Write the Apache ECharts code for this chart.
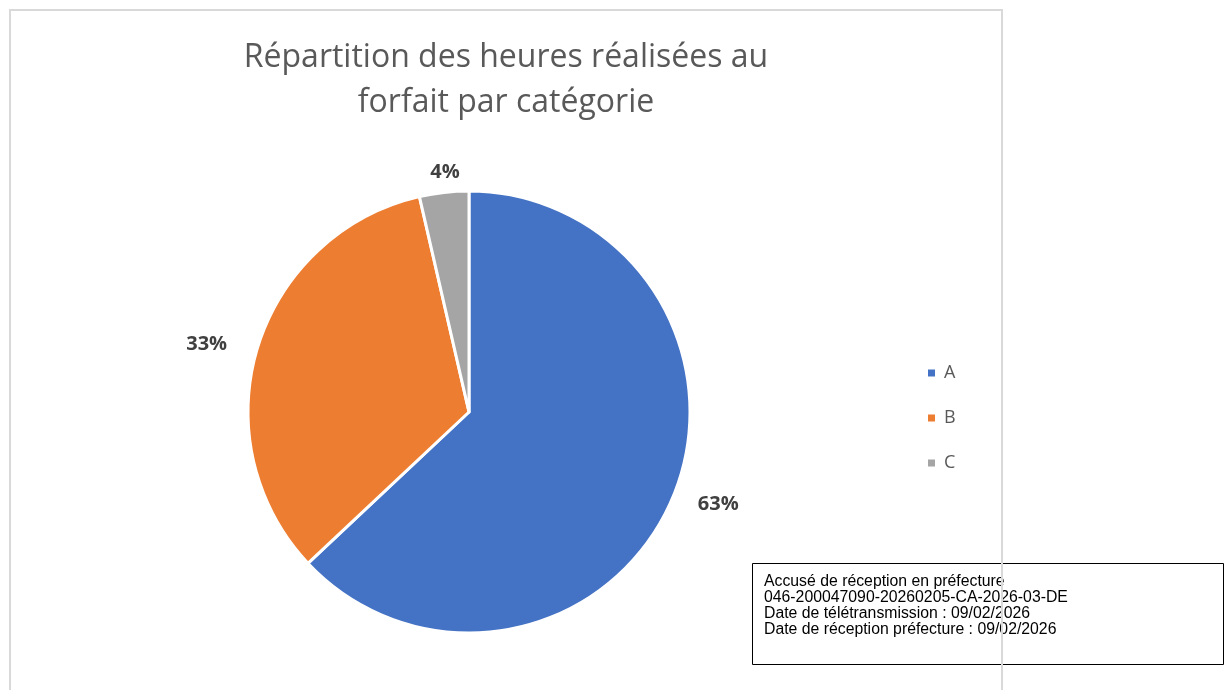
<!DOCTYPE html>
<html><head><meta charset="utf-8">
<script src="https://cdn.jsdelivr.net/npm/echarts@6/dist/echarts.min.js"></script>
<style>html,body{margin:0;padding:0;background:#fff}#c{width:1230px;height:690px}</style>
</head><body><div id="c"></div>
<script>
const categories = ['A', 'B', 'C'];
const values = [63.0, 33.4, 3.6];
const colors = ['#4472C4', '#ED7D31', '#A5A5A5'];
const titleText = 'Répartition des heures réalisées au\nforfait par catégorie';
const stampLines = ['Accusé de réception en préfecture', '046-200047090-20260205-CA-2026-03-DE', 'Date de télétransmission : 09/02/2026', 'Date de réception préfecture : 09/02/2026'];

const chart = echarts.init(document.getElementById('c'));
chart.setOption({
  animation: false,
  backgroundColor: '#fff',
  title: {
    text: titleText, left: 506, textAlign: 'center', top: 35, padding: 0,
    textStyle: { fontFamily: 'Open Sans', fontWeight: 'normal', fontSize: 32, color: '#595959', lineHeight: 45 }
  },
  legend: {
    orient: 'vertical', left: 926, top: 364, padding: 0, itemWidth: 9, itemHeight: 9, itemGap: 27,
    icon: 'rect', data: categories,
    textStyle: { fontFamily: 'Open Sans', fontSize: 18, color: '#595959', padding: [0, 0, 0, 3] }
  },
  series: [{
    type: 'pie', center: [469, 412], radius: 221, startAngle: 90, clockwise: true,
    percentPrecision: 0,
    data: categories.map((c, i) => ({ name: c, value: values[i], itemStyle: { color: colors[i] } })),
    itemStyle: { borderColor: '#fff', borderWidth: 3 },
    label: { show: true, position: 'outside', formatter: '{d}%', fontFamily: 'Open Sans', fontWeight: 'bold', fontSize: 20, color: '#404040' },
    labelLine: { show: false, length: 12, length2: 14 },
    labelLayout: function (p) {
      if (p.dataIndex === 2) return { dx: 36, dy: -8 };
      if (p.dataIndex === 0) return { dx: -4 };
      return {};
    },
    emphasis: { disabled: true }
  }],
  graphic: [
    { type: 'rect', z: 1, shape: { x: 752.5, y: 563.5, width: 471, height: 101 }, style: { fill: '#fff', stroke: '#000', lineWidth: 1 } },
    { type: 'text', z: 2, left: 764, top: 574, style: { text: stampLines.join('\n'), fontFamily: 'Liberation Sans', fontSize: 15.8, lineHeight: 16, fill: '#000' } },
    { type: 'rect', z: 3, shape: { x: 10, y: 10, width: 992, height: 700 }, style: { fill: 'none', stroke: '#d9d9d9', lineWidth: 2 } }
  ]
});
</script></body></html>
